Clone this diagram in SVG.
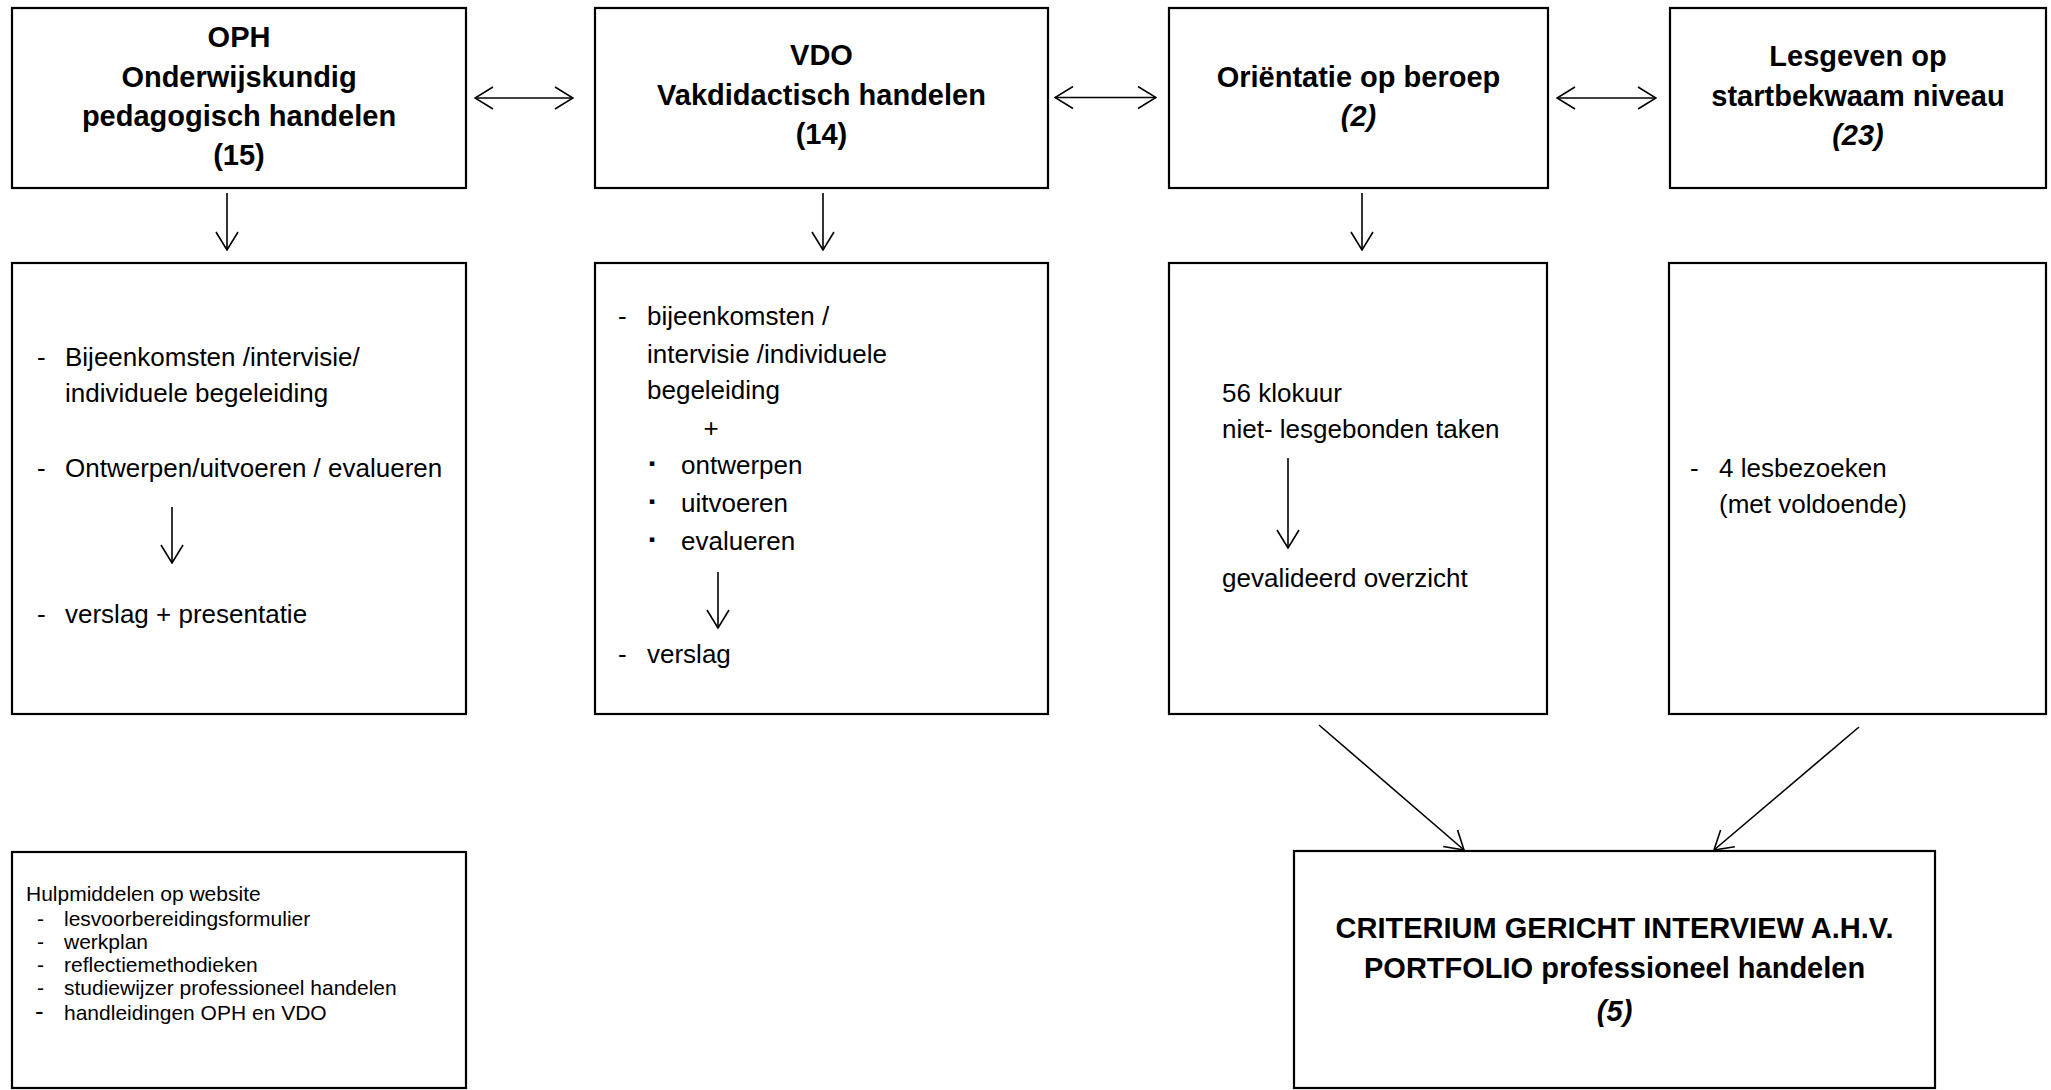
<svg xmlns="http://www.w3.org/2000/svg" width="2051" height="1090" viewBox="0 0 2051 1090">
<style>
.box{fill:#fff;stroke:#000;stroke-width:2.2}
.t{font-family:"Liberation Sans",Arial,sans-serif;font-weight:bold;font-size:29px;text-anchor:middle;fill:#000}
.i{font-style:italic}
.b{font-family:"Liberation Sans",Arial,sans-serif;font-size:26px;fill:#000}
.s{font-family:"Liberation Sans",Arial,sans-serif;font-size:21px;fill:#000}
.bul{font-family:"DejaVu Sans",sans-serif;font-size:9px;fill:#000}
.c{stroke:#000;stroke-width:1.6;fill:none}
</style>
<defs>
<marker id="ah" viewBox="0 0 20 24" refX="19" refY="12" markerWidth="20" markerHeight="24" markerUnits="userSpaceOnUse" orient="auto-start-reverse">
<path d="M1,1 L19,12 L1,23" fill="none" stroke="#000" stroke-width="1.6"/>
</marker>
</defs>
<rect width="2051" height="1090" fill="#fff"/>

<g id="oph">
<rect class="box" x="12" y="8" width="454" height="180"/>
<text class="t" x="239" y="47">OPH</text>
<text class="t" x="239" y="86.5">Onderwijskundig</text>
<text class="t" x="239" y="125.5">pedagogisch handelen</text>
<text class="t" x="239" y="164.5">(15)</text>
</g>
<g id="vdo">
<rect class="box" x="595" y="8" width="453" height="180"/>
<text class="t" x="821.5" y="65">VDO</text>
<text class="t" x="821.5" y="105">Vakdidactisch handelen</text>
<text class="t" x="821.5" y="144">(14)</text>
</g>
<g id="orientatie">
<rect class="box" x="1169" y="8" width="379" height="180"/>
<text class="t" x="1358.5" y="86.5">Oriëntatie op beroep</text>
<text class="t i" x="1358.5" y="126">(2)</text>
</g>
<g id="lesgeven">
<rect class="box" x="1670" y="8" width="376" height="180"/>
<text class="t" x="1858" y="66">Lesgeven op</text>
<text class="t" x="1858" y="105.5">startbekwaam niveau</text>
<text class="t i" x="1858" y="145">(23)</text>
</g>

<g id="oph-detail">
<rect class="box" x="12" y="263" width="454" height="451"/>
<text class="b" x="37" y="366">-</text>
<text class="b" x="65" y="366">Bijeenkomsten /intervisie/</text>
<text class="b" x="65" y="401.7">individuele begeleiding</text>
<text class="b" x="37" y="476.7">-</text>
<text class="b" x="65" y="476.7">Ontwerpen/uitvoeren / evalueren</text>
<text class="b" x="37" y="622.5">-</text>
<text class="b" x="65" y="622.5">verslag + presentatie</text>
</g>
<g id="vdo-detail">
<rect class="box" x="595" y="263" width="453" height="451"/>
<text class="b" x="618" y="325">-</text>
<text class="b" x="647" y="325">bijeenkomsten /</text>
<text class="b" x="647" y="362.7">intervisie /individuele</text>
<text class="b" x="647" y="399">begeleiding</text>
<text class="b" x="711" y="437" text-anchor="middle">+</text>
<text class="bul" x="649" y="466">▪</text>
<text class="b" x="681" y="474">ontwerpen</text>
<text class="bul" x="649" y="503.7">▪</text>
<text class="b" x="681" y="511.7">uitvoeren</text>
<text class="bul" x="649" y="542">▪</text>
<text class="b" x="681" y="550">evalueren</text>
<text class="b" x="618" y="663">-</text>
<text class="b" x="647" y="663">verslag</text>
</g>
<g id="orientatie-detail">
<rect class="box" x="1169" y="263" width="378" height="451"/>
<text class="b" x="1222" y="401.7">56 klokuur</text>
<text class="b" x="1222" y="438.3">niet- lesgebonden taken</text>
<text class="b" x="1222" y="586.7">gevalideerd overzicht</text>
</g>
<g id="lesgeven-detail">
<rect class="box" x="1669" y="263" width="377" height="451"/>
<text class="b" x="1690" y="476.7">-</text>
<text class="b" x="1719" y="476.7">4 lesbezoeken</text>
<text class="b" x="1719" y="513.3">(met voldoende)</text>
</g>
<g id="hulpmiddelen">
<rect class="box" x="12" y="852" width="454" height="236"/>
<text class="s" x="26" y="901">Hulpmiddelen op website</text>
<text class="s" x="37" y="926">-</text>
<text class="s" x="64" y="926">lesvoorbereidingsformulier</text>
<text class="s" x="37" y="949">-</text>
<text class="s" x="64" y="949">werkplan</text>
<text class="s" x="37" y="972">-</text>
<text class="s" x="64" y="972">reflectiemethodieken</text>
<text class="s" x="37" y="995">-</text>
<text class="s" x="64" y="995">studiewijzer professioneel handelen</text>
<text class="s" x="35" y="1020" style="font-size:26px">-</text>
<text class="s" x="64" y="1020">handleidingen OPH en VDO</text>
</g>
<g id="criterium">
<rect class="box" x="1294" y="851" width="641" height="237"/>
<text class="t" x="1614.6" y="938">CRITERIUM GERICHT INTERVIEW A.H.V.</text>
<text class="t" x="1614.6" y="978">PORTFOLIO professioneel handelen</text>
<text class="t i" x="1614.6" y="1021">(5)</text>
</g>

<g id="connectors">
<line class="c" x1="475" y1="98" x2="573" y2="98" marker-start="url(#ah)" marker-end="url(#ah)"/>
<line class="c" x1="1055" y1="97.5" x2="1156" y2="97.5" marker-start="url(#ah)" marker-end="url(#ah)"/>
<line class="c" x1="1557" y1="98" x2="1656" y2="98" marker-start="url(#ah)" marker-end="url(#ah)"/>
<line class="c" x1="227" y1="193" x2="227" y2="250" marker-end="url(#ah)"/>
<line class="c" x1="823" y1="193" x2="823" y2="250" marker-end="url(#ah)"/>
<line class="c" x1="1362" y1="193" x2="1362" y2="250" marker-end="url(#ah)"/>
<line class="c" x1="172" y1="507" x2="172" y2="563" marker-end="url(#ah)"/>
<line class="c" x1="718" y1="572" x2="718" y2="628" marker-end="url(#ah)"/>
<line class="c" x1="1288" y1="458" x2="1288" y2="548" marker-end="url(#ah)"/>
<line class="c" x1="1319" y1="725" x2="1464" y2="850" marker-end="url(#ah)"/>
<line class="c" x1="1859" y1="727" x2="1714" y2="850" marker-end="url(#ah)"/>
</g>
</svg>
